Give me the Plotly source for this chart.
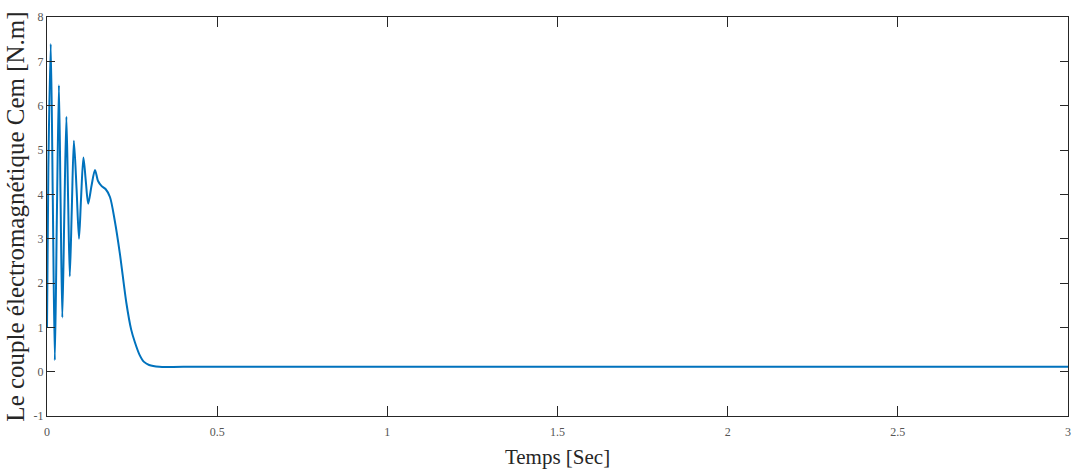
import plotly.graph_objects as go

# Time (s) and electromagnetic torque (N.m)
t = [0.0, 0.004, 0.011, 0.017, 0.023, 0.029, 0.035, 0.040, 0.045, 0.051, 0.057,
     0.062, 0.067, 0.073, 0.079, 0.087, 0.094, 0.100, 0.107, 0.114, 0.121,
     0.131, 0.141, 0.150, 0.160, 0.172, 0.185, 0.199, 0.214, 0.233, 0.247,
     0.258, 0.272, 0.285, 0.300, 0.330, 0.40, 1.0, 2.0, 3.0]
cem = [1.0, 4.6, 7.39, 3.9, 0.26, 3.5, 6.46, 3.8, 1.22, 3.6, 5.75,
       3.9, 2.15, 3.7, 5.21, 4.1, 3.0, 3.9, 4.83, 4.3, 3.79,
       4.2, 4.55, 4.3, 4.19, 4.12, 3.94, 3.41, 2.67, 1.56, 0.96,
       0.67, 0.38, 0.22, 0.15, 0.11, 0.11, 0.11, 0.11, 0.11]

x_ticks = [0, 0.5, 1, 1.5, 2, 2.5, 3]
x_tick_labels = ["0", "0.5", "1", "1.5", "2", "2.5", "3"]
y_ticks = [-1, 0, 1, 2, 3, 4, 5, 6, 7, 8]
y_tick_labels = ["-1", "0", "1", "2", "3", "4", "5", "6", "7", "8"]

fig = go.Figure()
fig.add_trace(go.Scatter(
    x=t, y=cem, mode="lines",
    line=dict(color="#0072BD", width=2, shape="spline", smoothing=0.8),
    showlegend=False,
))

serif = "Liberation Serif, Times New Roman, serif"
axis_common = dict(
    showline=True, linecolor="#262626", linewidth=1, mirror="ticks",
    ticks="inside", tickcolor="#262626", tickwidth=1,
    showgrid=False, zeroline=False,
    tickfont=dict(family=serif, size=12, color="#555555"),
)

fig.update_layout(
    width=1081, height=476,
    margin=dict(l=47, r=10, t=12, b=60),
    paper_bgcolor="white", plot_bgcolor="white",
    font=dict(family=serif),
    xaxis=dict(
        range=[0, 3], tickvals=x_ticks, ticktext=x_tick_labels, ticklen=10,
        ticklabelstandoff=5,
        title=dict(text="Temps [Sec]", font=dict(family=serif, size=21, color="#262626"), standoff=10),
        **axis_common,
    ),
    yaxis=dict(
        range=[-1, 8], tickvals=y_ticks, ticktext=y_tick_labels, ticklen=8,
        title=dict(text="Le couple électromagnétique Cem [N.m]", font=dict(family=serif, size=25, color="#262626"), standoff=1),
        **axis_common,
    ),
)

fig.write_html("out.html")
